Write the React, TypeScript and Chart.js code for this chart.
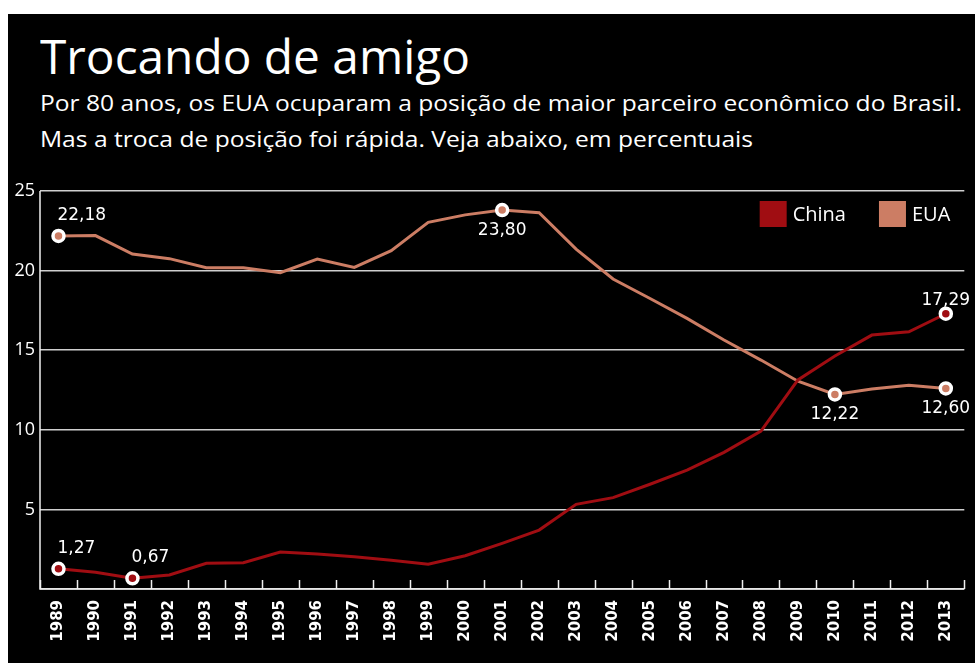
import React, { useEffect, useRef } from "react";
import { Chart, registerables } from "chart.js";

Chart.register(...registerables);

const years = [
  "1989", "1990", "1991", "1992", "1993", "1994", "1995", "1996", "1997",
  "1998", "1999", "2000", "2001", "2002", "2003", "2004", "2005", "2006",
  "2007", "2008", "2009", "2010", "2011", "2012", "2013",
];

const chinaValues = [
  1.27, 1.05, 0.67, 0.88, 1.61, 1.65, 2.32, 2.2, 2.03, 1.8, 1.55, 2.09, 2.87,
  3.7, 5.32, 5.74, 6.58, 7.47, 8.58, 9.92, 13.13, 14.64, 15.95, 16.16, 17.29,
];

const euaValues = [
  22.18, 22.2, 21.04, 20.75, 20.18, 20.18, 19.87, 20.73, 20.2, 21.25, 23.03,
  23.5, 23.8, 23.64, 21.35, 19.47, 18.25, 17.0, 15.64, 14.38, 13.05, 12.22,
  12.56, 12.8, 12.6,
];

const seriesNames = ["China", "EUA"];
const yTickValues = [5, 10, 15, 20, 25];

// highlighted (labelled) points
const chinaLabelIdx = [0, 2, 24];
const chinaLabelPos = ["aboveLeft", "aboveLeft", "above"];
const euaLabelIdx = [0, 12, 21, 24];
const euaLabelPos = ["aboveLeft", "below", "below", "below"];

const title = "Trocando de amigo";
const subtitle1 =
  "Por 80 anos, os EUA ocuparam a posição de maior parceiro econômico do Brasil.";
const subtitle2 =
  "Mas a troca de posição foi rápida. Veja abaixo, em percentuais";

const CHINA_COLOR = "#a00d12";
const EUA_COLOR = "#cc7d64";

const fmt = (v: number) => v.toFixed(2).replace(".", ",");

function FitText(props: {
  text: string;
  width: number;
  top: number;
  size: number;
}) {
  const ref = useRef<HTMLSpanElement | null>(null);
  useEffect(() => {
    const el = ref.current;
    if (!el) return;
    el.style.transform = "none";
    const w = el.getBoundingClientRect().width;
    if (w > 0) el.style.transform = `scaleX(${props.width / w})`;
  }, [props.text, props.width]);
  return (
    <span
      ref={ref}
      style={{
        position: "fixed",
        left: 40,
        top: props.top,
        fontFamily: "'Open Sans', sans-serif",
        fontSize: props.size,
        lineHeight: `${props.size}px`,
        color: "#fff",
        whiteSpace: "nowrap",
        display: "inline-block",
        transformOrigin: "left top",
      }}
    >
      {props.text}
    </span>
  );
}

export default function App() {
  const canvasRef = useRef<HTMLCanvasElement | null>(null);

  useEffect(() => {
    const canvas = canvasRef.current;
    if (!canvas) return;

    const highlight = (idx: number[]) => (ctx: any) =>
      idx.includes(ctx.dataIndex) ? 5.5 : 0;

    const decorPlugin = {
      id: "decor",
      afterDraw(chart: any) {
        const { ctx, chartArea } = chart;
        const xs = chart.scales.x;
        ctx.save();
        // axes
        ctx.strokeStyle = "#f0f0f0";
        ctx.lineWidth = 1.5;
        ctx.beginPath();
        ctx.moveTo(chartArea.left, chartArea.top);
        ctx.lineTo(chartArea.left, chartArea.bottom);
        ctx.lineTo(chartArea.right, chartArea.bottom);
        ctx.stroke();
        // inner tick marks between categories
        const step = xs.getPixelForValue(1) - xs.getPixelForValue(0);
        ctx.beginPath();
        for (let i = 0; i <= years.length; i++) {
          const x = Math.round(xs.getPixelForValue(i) - step / 2) + 0.5;
          ctx.moveTo(x, chartArea.bottom - 9);
          ctx.lineTo(x, chartArea.bottom);
        }
        ctx.stroke();

        // data labels
        ctx.fillStyle = "#ffffff";
        ctx.font = "17px 'DejaVu Sans'";
        const drawLabels = (dsIndex: number, idx: number[], pos: string[]) => {
          const meta = chart.getDatasetMeta(dsIndex);
          const values = chart.data.datasets[dsIndex].data as number[];
          idx.forEach((di, k) => {
            const pt = meta.data[di];
            const text = fmt(values[di]);
            const p = pos[k];
            if (p === "aboveLeft") {
              ctx.textAlign = "left";
              ctx.textBaseline = "alphabetic";
              ctx.fillText(text, pt.x - 1, pt.y - 16);
            } else if (p === "above") {
              ctx.textAlign = "center";
              ctx.textBaseline = "alphabetic";
              ctx.fillText(text, pt.x, pt.y - 9);
            } else {
              ctx.textAlign = "center";
              ctx.textBaseline = "top";
              ctx.fillText(text, pt.x, pt.y + 12);
            }
          });
        };
        drawLabels(0, chinaLabelIdx, chinaLabelPos);
        drawLabels(1, euaLabelIdx, euaLabelPos);

        // legend (top-right inside chart area)
        ctx.font = "20px 'Open Sans'";
        ctx.textBaseline = "middle";
        ctx.textAlign = "left";
        const colors = [CHINA_COLOR, EUA_COLOR];
        const boxW = 27;
        const boxH = 26;
        const boxTop = chartArea.top + 10;
        let right = chartArea.right - 14;
        for (let i = seriesNames.length - 1; i >= 0; i--) {
          const tw = ctx.measureText(seriesNames[i]).width;
          const textX = right - tw;
          const boxX = textX - 6 - boxW;
          ctx.fillStyle = colors[i];
          ctx.fillRect(boxX, boxTop, boxW, boxH);
          ctx.fillStyle = "#ffffff";
          ctx.fillText(seriesNames[i], textX, boxTop + boxH / 2 + 1);
          right = boxX - 33;
        }
        ctx.restore();
      },
    };

    const chart = new Chart(canvas, {
      type: "line",
      data: {
        labels: years,
        datasets: [
          {
            label: seriesNames[0],
            data: chinaValues,
            borderColor: CHINA_COLOR,
            backgroundColor: CHINA_COLOR,
            borderWidth: 3,
            tension: 0,
            pointRadius: highlight(chinaLabelIdx),
            pointHoverRadius: highlight(chinaLabelIdx),
            pointBackgroundColor: CHINA_COLOR,
            pointBorderColor: "#ffffff",
            pointBorderWidth: 3.5,
          },
          {
            label: seriesNames[1],
            data: euaValues,
            borderColor: EUA_COLOR,
            backgroundColor: EUA_COLOR,
            borderWidth: 3,
            tension: 0,
            pointRadius: highlight(euaLabelIdx),
            pointHoverRadius: highlight(euaLabelIdx),
            pointBackgroundColor: EUA_COLOR,
            pointBorderColor: "#ffffff",
            pointBorderWidth: 3.5,
          },
        ],
      },
      options: {
        animation: false,
        responsive: false,
        maintainAspectRatio: false,
        events: [],
        layout: { padding: { top: 21, right: 6, left: 0, bottom: 0 } },
        plugins: {
          legend: { display: false },
          tooltip: { enabled: false },
        },
        scales: {
          x: {
            offset: true,
            grid: { display: false, drawTicks: false },
            border: { display: false },
            ticks: {
              color: "#ffffff",
              font: { family: "'DejaVu Sans'", size: 15, weight: "bold" },
              minRotation: 90,
              maxRotation: 90,
              autoSkip: false,
              padding: 11,
            },
            afterFit: (s: any) => {
              s.height = 74;
            },
          },
          y: {
            min: 0,
            max: 25,
            afterBuildTicks: (s: any) => {
              s.ticks = [0, ...yTickValues].map((v) => ({ value: v }));
            },
            ticks: {
              color: "#ffffff",
              font: { family: "'Open Sans'", size: 18 },
              padding: 5,
              callback: (v: any) => (v === 0 ? "" : String(v)),
            },
            grid: { color: "#cfcfcf", lineWidth: 1.5, drawTicks: false },
            border: { display: false },
            afterFit: (s: any) => {
              s.width = 32;
            },
          },
        },
      },
      plugins: [decorPlugin],
    } as any);

    return () => chart.destroy();
  }, []);

  return (
    <div>
      <div
        style={{
          position: "fixed",
          left: 8,
          top: 14,
          width: 967,
          height: 649,
          background: "#000",
        }}
      />
      <FitText text={title} width={430} top={32} size={48} />
      <FitText text={subtitle1} width={922} top={91} size={22} />
      <FitText text={subtitle2} width={713} top={127} size={22} />
      <canvas
        ref={canvasRef}
        width={967}
        height={493}
        style={{
          position: "fixed",
          left: 8,
          top: 170,
          width: 967,
          height: 493,
          display: "block",
        }}
      />
    </div>
  );
}
